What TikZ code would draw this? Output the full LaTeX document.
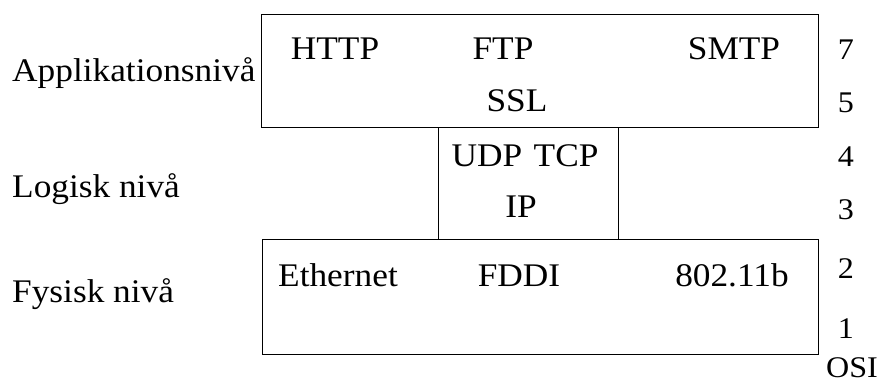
\documentclass[tikz,border=0pt]{standalone}
\usepackage{fontspec}
\setmainfont[FakeStretch=1.07]{Liberation Serif}
\begin{document}
\begin{tikzpicture}[x=1pt,y=-1pt,
  layer/.style={draw,line width=1.1pt,rectangle,inner sep=0pt,anchor=north west},
  lbl/.style={font=\fontsize{33}{36}\selectfont,anchor=base,inner sep=0pt},
  side/.style={lbl,anchor=base west},
  osi/.style={font=\fontsize{30}{32}\selectfont,anchor=base,inner sep=0pt}]
\useasboundingbox (0,0) rectangle (879,385);
% protocol layers
\node[layer,minimum width=557pt,minimum height=113pt] (app) at (261,14) {};
\node[layer,minimum width=180pt,minimum height=112pt] (net) at (438,127) {};
\node[layer,minimum width=556pt,minimum height=115pt] (phy) at (262,239) {};
% level names
\node[side] (lapp) at (12,82) {Applikationsnivå};
\node[side] (llog) at (12,198) {Logisk nivå};
\node[side] (lphy) at (12,302) {Fysisk nivå};
% protocols
\node[lbl] (http) at (335,60) {HTTP};
\node[lbl] (ftp) at (503,60) {FTP};
\node[lbl] (smtp) at (734,60) {SMTP};
\node[lbl] (ssl) at (517,112) {SSL};
\node[lbl] (udp) at (525,167) {UDP\hspace{0.35em}TCP};
\node[lbl] (ip) at (521,218) {IP};
\node[lbl] (eth) at (338,286) {Ethernet};
\node[lbl] (fddi) at (519,286) {FDDI};
\node[lbl] (wlan) at (732,286) {802.11b};
% OSI layer numbers
\node[osi] (n7) at (846,60) {7};
\node[osi] (n5) at (846,113) {5};
\node[osi] (n4) at (846,167) {4};
\node[osi] (n3) at (846,219) {3};
\node[osi] (n2) at (846,278) {2};
\node[osi] (n1) at (846,338) {1};
\node[osi] (nosi) at (852,377) {OSI};
\end{tikzpicture}
\end{document}
